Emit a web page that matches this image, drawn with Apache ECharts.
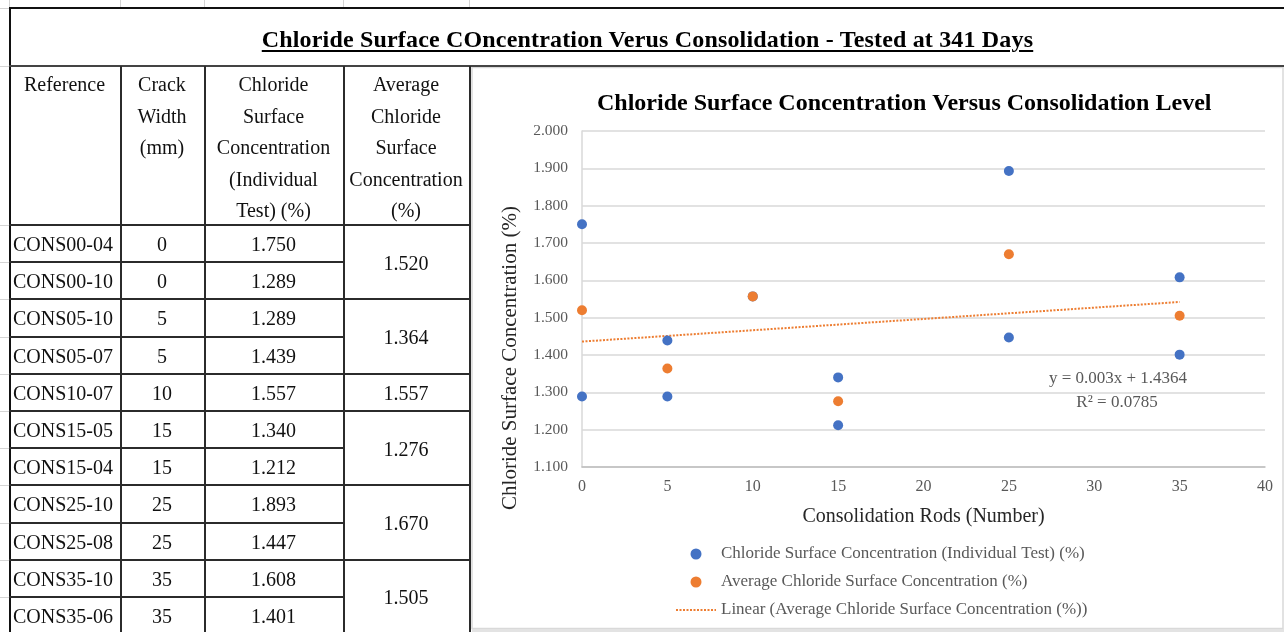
<!DOCTYPE html>
<html>
<head>
<meta charset="utf-8">
<script src="https://cdn.jsdelivr.net/npm/echarts@6/dist/echarts.min.js"></script>
<style>
  html, body { margin:0; padding:0; background:#fff; width:1284px; height:632px; overflow:hidden; }
  #chart { position:absolute; left:0; top:0; width:1284px; height:632px; }
  #overlay { position:absolute; left:0; top:0; width:1284px; height:632px; pointer-events:none;
             font-family:'Liberation Serif','Times New Roman',serif; color:#111; }
  .ln { position:absolute; background:#2b2b2b; }
  .fl { position:absolute; background:#d4d4d4; }
  .cell { position:absolute; display:flex; align-items:center; justify-content:center; font-size:20px; white-space:nowrap; }
  .hcell { position:absolute; text-align:center; font-size:20px; line-height:31.6px; white-space:nowrap; }
  #title { position:absolute; display:flex; align-items:center; justify-content:center;
           font-weight:bold; font-size:24px; letter-spacing:0.17px; text-decoration:underline; text-decoration-thickness:2px; text-underline-offset:3px; color:#000; }
</style>
</head>
<body>
<div id="chart"></div>
<div id="overlay"></div>
<script>
// ---------------- data ----------------
const mainTitle = 'Chloride Surface COncentration Verus Consolidation - Tested at 341 Days';
const headers = ['Reference', 'Crack<br>Width<br>(mm)', 'Chloride<br>Surface<br>Concentration<br>(Individual<br>Test) (%)', 'Average<br>Chloride<br>Surface<br>Concentration<br>(%)'];
const refs = ['CONS00-04','CONS00-10','CONS05-10','CONS05-07','CONS10-07','CONS15-05','CONS15-04','CONS25-10','CONS25-08','CONS35-10','CONS35-06'];
const rods = [0, 0, 5, 5, 10, 15, 15, 25, 25, 35, 35];
const individual = [1.750, 1.289, 1.289, 1.439, 1.557, 1.340, 1.212, 1.893, 1.447, 1.608, 1.401];
const groupSizes = [2, 2, 1, 2, 2, 2];
const avgRods = [0, 5, 10, 15, 25, 35];
const averages = [1.520, 1.364, 1.557, 1.276, 1.670, 1.505];
const trendX = [0, 35];
const trendY = [1.436, 1.542];
const chartTitle = 'Chloride Surface Concentration Versus Consolidation Level';
const xName = 'Consolidation Rods (Number)';
const yName = 'Chloride Surface Concentration (%)';
const seriesNames = ['Chloride Surface Concentration (Individual Test) (%)', 'Average Chloride Surface Concentration (%)', 'Linear (Average Chloride Surface Concentration (%))'];
const equationText = ['y = 0.003x + 1.4364', 'R\u00B2 = 0.0785'];

// ---------------- table (HTML) ----------------
const colX = [9, 120, 204, 343, 469];
const headTop = 66, headBottom = 225, rowH = 37.2;
const ov = document.getElementById('overlay');
function add(cls, l, t, w, h, html, extra) {
  const d = document.createElement('div');
  if (cls) d.className = cls;
  d.style.left = l + 'px'; d.style.top = t + 'px';
  if (w != null) d.style.width = w + 'px';
  if (h != null) d.style.height = h + 'px';
  if (html != null) d.innerHTML = html;
  if (extra) Object.assign(d.style, extra);
  ov.appendChild(d);
  return d;
}
// faint sheet gridlines outside the table
colX.forEach(x => add('fl', x, 0, 1, 8));
add('fl', 0, 8, 9, 1);
add('fl', 0, headTop, 9, 1);
add('fl', 0, headBottom, 9, 1);
for (let i = 1; i <= refs.length; i++) add('fl', 0, Math.round(headBottom + i * rowH), 9, 1);

// title
const t = add('', 11, 11, 1273, 56, mainTitle); t.id = 'title';

// header cells
headers.forEach((h, i) => add('hcell', colX[i], headTop + 3, colX[i+1] - colX[i], headBottom - headTop - 3, h));

// data cells
refs.forEach((r, i) => {
  const y0 = headBottom + i * rowH;
  add('cell', colX[0] + 4, y0 + 1, colX[1] - colX[0] - 4, rowH, r, {justifyContent:'flex-start'});
  add('cell', colX[1], y0 + 1, colX[2] - colX[1], rowH, String(rods[i]));
  add('cell', colX[2], y0 + 1, colX[3] - colX[2], rowH, individual[i].toFixed(3));
});
let gStart = 0;
groupSizes.forEach((g, k) => {
  const y0 = headBottom + gStart * rowH;
  add('cell', colX[3], y0 + 1, colX[4] - colX[3], g * rowH, averages[k].toFixed(3));
  gStart += g;
});

// lines
add('ln', 9, 7, 1275, 2, null, {background:'#111'});           // top border
add('ln', 9, 7, 2, 625, null, {background:'#111'});            // left border
add('ln', 9, headTop - 1, 1275, 2, null, {background:'#444'});  // title bottom
colX.slice(1).forEach(x => add('ln', x, headTop, 2, 632 - headTop));
add('ln', 9, headBottom - 1, colX[4] - 9 + 2, 2);
for (let i = 1; i < refs.length + 1; i++) {
  const y = Math.round(headBottom + i * rowH) - 1;
  add('ln', 9, y, colX[3] - 9, 2);
}
gStart = 0;
groupSizes.forEach(g => {
  gStart += g;
  const y = Math.round(headBottom + gStart * rowH) - 1;
  add('ln', colX[3], y, colX[4] - colX[3] + 2, 2);
});

// ---------------- chart ----------------
const font = 'Liberation Serif';
const chart = echarts.init(document.getElementById('chart'), null, {renderer:'canvas'});
const indData = rods.map((x, i) => [x, individual[i]]);
const avgData = avgRods.map((x, i) => [x, averages[i]]);
const trendData = trendX.map((x, i) => [x, trendY[i]]);

chart.setOption({
  animation: false,
  backgroundColor: 'transparent',
  title: {
    text: chartTitle, left: 597, top: 92, padding: 0,
    textStyle: { fontFamily: font, fontSize: 24, fontWeight: 'bold', color: '#000' }
  },
  grid: { left: 582, top: 131, width: 683, height: 336 },
  xAxis: {
    type: 'value', min: 0, max: 40, interval: 5,
    name: xName, nameLocation: 'middle', nameGap: 40,
    nameTextStyle: { fontFamily: font, fontSize: 20, color: '#262626' },
    axisLine: { show: true, onZero: false, lineStyle: { color: '#bfbfbf', width: 1.5 } },
    axisTick: { show: false },
    splitLine: { show: false },
    axisLabel: { fontFamily: font, fontSize: 16, color: '#595959', margin: 12 }
  },
  yAxis: {
    type: 'value', min: 1.1, max: 2.0, interval: 0.1,
    axisLine: { show: true, onZero: false, lineStyle: { color: '#d9d9d9', width: 1.5 } },
    axisTick: { show: false },
    splitLine: { show: true, lineStyle: { color: '#d9d9d9', width: 1.5 } },
    axisLabel: { fontFamily: font, fontSize: 15.5, color: '#595959', margin: 14,
                 formatter: v => v.toFixed(3) }
  },
  legend: {
    orient: 'vertical', left: 675, top: 545, padding: 0,
    itemWidth: 40, itemHeight: 11, itemGap: 10,
    textStyle: { fontFamily: font, fontSize: 17, color: '#595959', lineHeight: 18 },
    data: [
      { name: seriesNames[0] },
      { name: seriesNames[1] },
      { name: seriesNames[2], itemStyle: { opacity: 0 } }
    ]
  },
  graphic: [
    { type: 'rect', z: -1, shape: { x: 472, y: 67.5, width: 811, height: 561 },
      style: { fill: '#fff', stroke: '#d9d9d9', lineWidth: 1.5 } },
    { type: 'rect', z: -1, shape: { x: 472, y: 629, width: 812, height: 3 },
      style: { fill: '#e3e3e3' } },
    { type: 'text', x: 510, y: 358, rotation: Math.PI / 2,
      style: { text: yName, fontFamily: font, fontSize: 21, fill: '#262626', align: 'center', verticalAlign: 'middle' } },
    { type: 'text', x: 1118, y: 379,
      style: { text: equationText[0], fontFamily: font, fontSize: 17, fill: '#595959', align: 'center', verticalAlign: 'middle' } },
    { type: 'text', x: 1117, y: 403,
      style: { text: equationText[1], fontFamily: font, fontSize: 17, fill: '#595959', align: 'center', verticalAlign: 'middle' } }
  ],
  series: [
    { name: seriesNames[0], type: 'scatter', data: indData, symbolSize: 10,
      itemStyle: { color: '#4472C4', opacity: 1 }, z: 3 },
    { name: seriesNames[1], type: 'scatter', data: avgData, symbolSize: 10,
      itemStyle: { color: '#ED7D31', opacity: 1 }, z: 4 },
    { name: seriesNames[2], type: 'line', data: trendData, symbol: 'none', showSymbol: false,
      lineStyle: { color: '#ED7D31', width: 2, type: [2, 1.5] }, itemStyle: { color: 'rgba(237,125,49,0)' }, z: 2 }
  ]
});
</script>
</body>
</html>
